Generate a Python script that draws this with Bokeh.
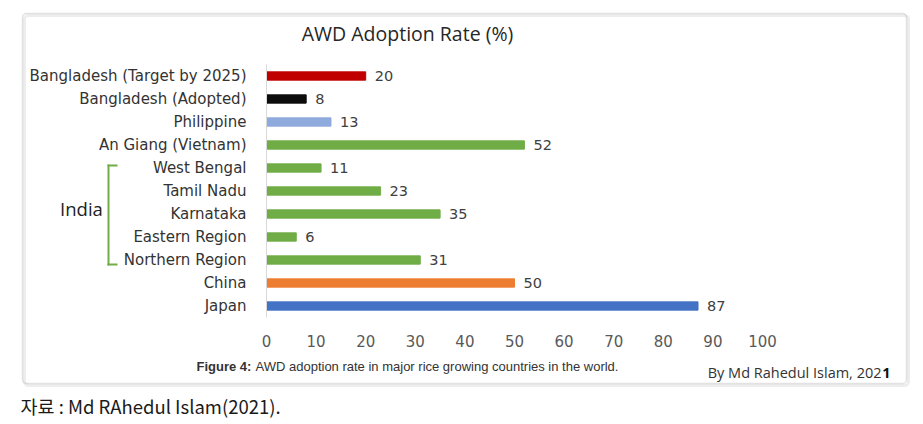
from bokeh.plotting import figure
from bokeh.models import Range1d, FixedTicker, Label, BoxAnnotation, ColumnDataSource, LinearAxis
from bokeh.embed import file_html
from bokeh.resources import INLINE
from bokeh.core.properties import value

categories = ["Bangladesh (Target by 2025)", "Bangladesh (Adopted)", "Philippine",
              "An Giang (Vietnam)", "West Bengal", "Tamil Nadu", "Karnataka",
              "Eastern Region", "Northern Region", "China", "Japan"]
rates = [20, 8, 13, 52, 11, 23, 35, 6, 31, 50, 87]
bar_colors = ["#c00000", "#0d0d0d", "#8faadc", "#70ad47", "#70ad47", "#70ad47",
              "#70ad47", "#70ad47", "#70ad47", "#ed7d31", "#4472c4"]
x_ticks = [0, 10, 20, 30, 40, 50, 60, 70, 80, 90, 100]

W, H = 923, 424
# canvas pixel geometry of the plotting area
X0_PX, X100_PX = 266, 762          # value 0 and 100
ROW_TOP_PX, ROW_BOT_PX = 75.5, 305.5   # centres of first and last rows

n = len(categories)
ypos = [n - 1 - i for i in range(n)]     # first category on top
px_per_x = (X100_PX - X0_PX) / 100.0
px_per_y = (ROW_BOT_PX - ROW_TOP_PX) / (n - 1)

x_range = Range1d(-X0_PX / px_per_x, 100 + (W - X100_PX) / px_per_x)
y_range = Range1d(-(H - ROW_BOT_PX) / px_per_y, ROW_BOT_PX / px_per_y)

src = ColumnDataSource(dict(y=ypos, cat=categories, rate=rates, color=bar_colors,
                            label=[str(r) for r in rates]))

p = figure(width=W, height=H, x_range=x_range, y_range=y_range,
           output_backend="svg", toolbar_location=None,
           x_axis_location=None, y_axis_location=None,
           min_border=0, min_border_left=0, min_border_right=0,
           min_border_top=0, min_border_bottom=0)
p.title.visible = False
p.background_fill_color = "white"
p.border_fill_color = "white"
p.outline_line_color = None
p.grid.visible = False

LABEL_FONT = "DejaVu Sans"

p.hbar(y="y", right="rate", left=0, height=0.36, color="color", source=src)
p.text(x="rate", y="y", text="label", x_offset=9, text_baseline="middle",
       text_font=value(LABEL_FONT), text_font_size="14.5px", text_color="#404040",
       source=src)

ya = LinearAxis(fixed_location=0, ticker=FixedTicker(ticks=ypos),
                major_label_overrides={y: c for y, c in zip(ypos, categories)},
                bounds=(-0.5, n - 0.5))
ya.major_tick_line_color = None
ya.minor_tick_line_color = None
ya.axis_line_color = "#d9d9d9"
ya.major_label_text_font = LABEL_FONT
ya.major_label_text_font_size = "15px"
ya.major_label_text_color = "#333333"
ya.major_label_standoff = 14
p.add_layout(ya, "left")

xa = LinearAxis(fixed_location=-0.5, ticker=FixedTicker(ticks=x_ticks), bounds=(0, 100))
xa.axis_line_color = None
xa.major_tick_line_color = None
xa.minor_tick_line_color = None
xa.major_label_text_font = LABEL_FONT
xa.major_label_text_font_size = "15px"
xa.major_label_text_color = "#595959"
xa.major_label_standoff = 11
p.add_layout(xa, "below")

def sx(cx):
    return cx

def sy(cy):
    return H - cy

def box(l, r, t, b, **kw):
    p.add_layout(BoxAnnotation(left=sx(l), right=sx(r), top=sy(t), bottom=sy(b),
                               left_units="screen", right_units="screen",
                               top_units="screen", bottom_units="screen", **kw))

# outer frame with soft shadow
box(24, 908, 15, 385, fill_alpha=0, line_color="#c4c4c4", line_width=3, border_radius=4)
box(22, 906, 13, 383, fill_alpha=0, line_color="#9e9e9e", line_width=1.5, border_radius=4)

# India bracket
green = "#70ad47"
for (l, r, t, b) in [(107, 109, 164, 265), (107, 117, 164, 166), (107, 117, 263, 265)]:
    box(l, r, t, b, fill_color=green, fill_alpha=1, line_color=None)

def lab(cx, cy, text, size, font="Open Sans", color="#333333", align="left", style="normal"):
    p.add_layout(Label(x=sx(cx), y=sy(cy), x_units="screen", y_units="screen", text=text,
                       text_font=font, text_font_size=size, text_color=color,
                       text_align=align, text_baseline="middle", text_font_style=style))

lab(407, 33, "AWD Adoption Rate (%)", "19.5px", color="#262626", align="center")
lab(81, 208, "India", "18.5px", color="#222222", align="center")
lab(196, 366, "Figure 4:", "13px", font="Liberation Sans", color="#333333", style="bold")
lab(255, 366, "AWD adoption rate in major rice growing countries in the world.", "13px",
    font="Liberation Sans", color="#333333")
lab(881, 372, "By Md Rahedul Islam, 202", "14.5px", color="#333333", align="right")
lab(890, 372, "1", "14.5px", color="#111111", align="right", style="bold")
lab(20, 405, "자료 : Md RAhedul Islam(2021).", "18.5px", font="Noto Sans CJK KR", color="#1a1a1a")

open("out.html", "w").write(file_html(p, INLINE))
